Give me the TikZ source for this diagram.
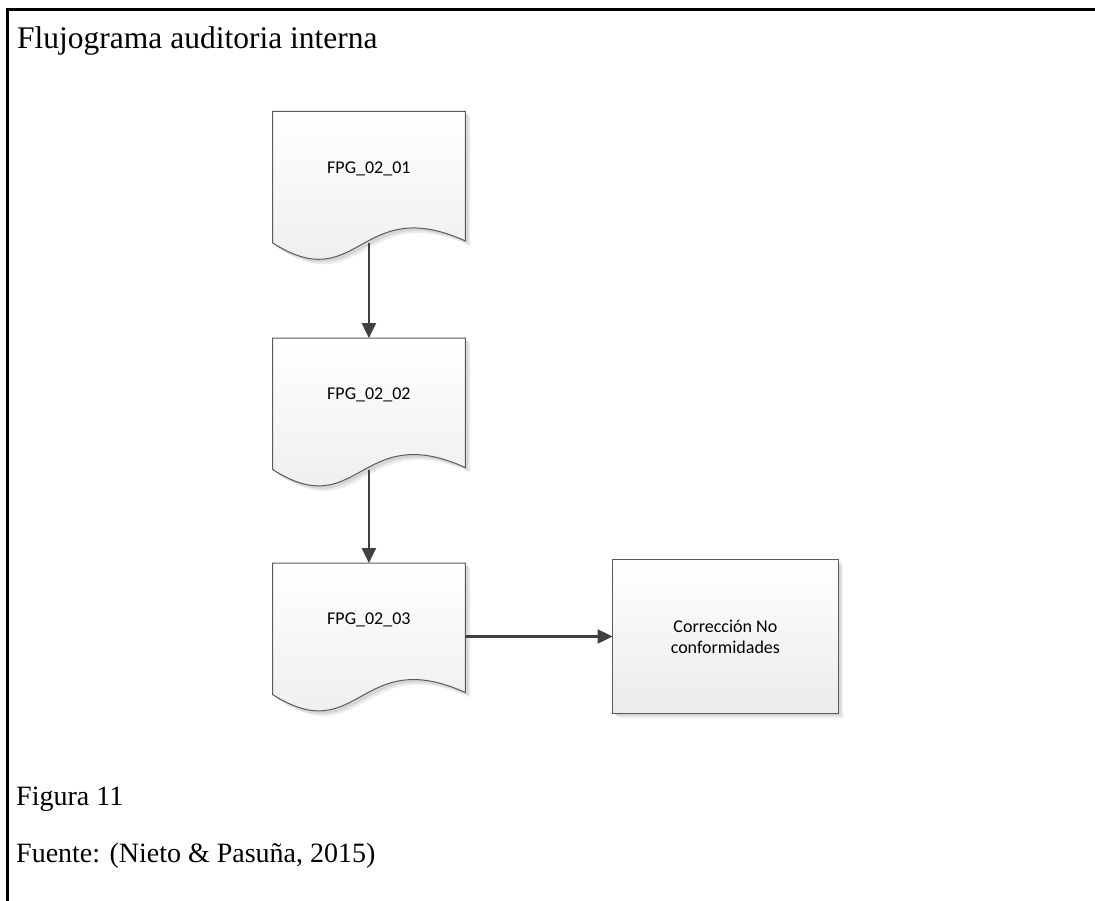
\documentclass[tikz,border=0pt]{standalone}
\usepackage{fontspec}
\setmainfont{Liberation Serif}
\newfontfamily\calibrifont{Carlito}
\usetikzlibrary{calc,arrows.meta}
\pgfdeclarelayer{background}
\pgfsetlayers{background,main}
\definecolor{linec}{HTML}{404040}
\definecolor{edgec}{HTML}{5A5A5A}
\definecolor{shadowa}{HTML}{D6D6D6}
\definecolor{shadowb}{HTML}{ECECEC}
\definecolor{fillbot}{HTML}{EBEBEB}
% document shape path: #1 node name, #2 offset
\newcommand\mydocpath[2]{($(#1.north west)+#2$) -- ($(#1.north east)+#2$) -- ($(#1.south east)+(0,-2)+#2$) .. controls ($(#1.south west)+(86.5,-50)+#2$) and ($(#1.south west)+(86.5,55)+#2$) .. ($(#1.south west)+#2$) -- cycle}
\newcommand\mydocshape[1]{%
  \begin{pgfonlayer}{background}
    \fill[shadowb] \mydocpath{#1}{(5,5)};
    \fill[shadowa] \mydocpath{#1}{(3,3)};
    \path[shapefill] \mydocpath{#1}{(0,0)};
  \end{pgfonlayer}}
\begin{document}
\begin{tikzpicture}[x=1pt,y=-1pt,
  docbox/.style={rectangle, draw=none, inner sep=0pt, minimum width=192.3pt, minimum height=131pt},
  doctext/.style={font=\calibrifont\fontsize{18}{21}\selectfont, text=black, yshift=8.5pt, inner sep=0pt},
  procbox/.style={rectangle, draw=none, inner sep=0pt, minimum width=225.3pt, minimum height=153pt, align=center, font=\calibrifont\fontsize{18}{21}\selectfont},
  shapefill/.style={top color=white, bottom color=fillbot, draw=edgec, line width=1pt},
  conn/.style={draw=linec, line width=2.2pt, -{Triangle[length=15pt,width=14pt]}},
  frameline/.style={draw=black, line width=2.6pt},
  caption/.style={anchor=base west, inner sep=0pt, font=\fontsize{28}{32}\selectfont}
]
\useasboundingbox (0,0) rectangle (1095,901);

% frame
\draw[frameline] (7.3,901) -- (7.3,9.3) -- (1095,9.3);

% texts
\node[caption, font=\fontsize{31.5}{36}\selectfont] (title) at (17,48.5) {Flujograma auditoria interna};
\node[caption] (fig) at (16,805) {Figura 11};
\node[caption] (src) at (16,862) {Fuente: (Nieto \& Pasuña, 2015)};

% nodes
\node[docbox, label={[doctext]center:FPG\_02\_01}] (d1) at (368.9,177.2) {};
\node[docbox, label={[doctext]center:FPG\_02\_02}] (d2) at (368.9,403.8) {};
\node[docbox, label={[doctext]center:FPG\_02\_03}] (d3) at (368.9,628.8) {};
\node[procbox] (r) at (725.4,636.5) {Corrección No\\conformidades};

\mydocshape{d1}
\mydocshape{d2}
\mydocshape{d3}
\begin{pgfonlayer}{background}
  \fill[shadowb] ($(r.north west)+(5,5)$) rectangle ($(r.south east)+(5,5)$);
  \fill[shadowa] ($(r.north west)+(3,3)$) rectangle ($(r.south east)+(3,3)$);
  \path[shapefill] (r.north west) rectangle (r.south east);
\end{pgfonlayer}

% connectors
\draw[conn] (d1.south) -- (d2.north);
\draw[conn] (d2.south) -- (d3.north);
\draw[conn] (r.west -| d3.east) -- (r.west);
\end{tikzpicture}
\end{document}
